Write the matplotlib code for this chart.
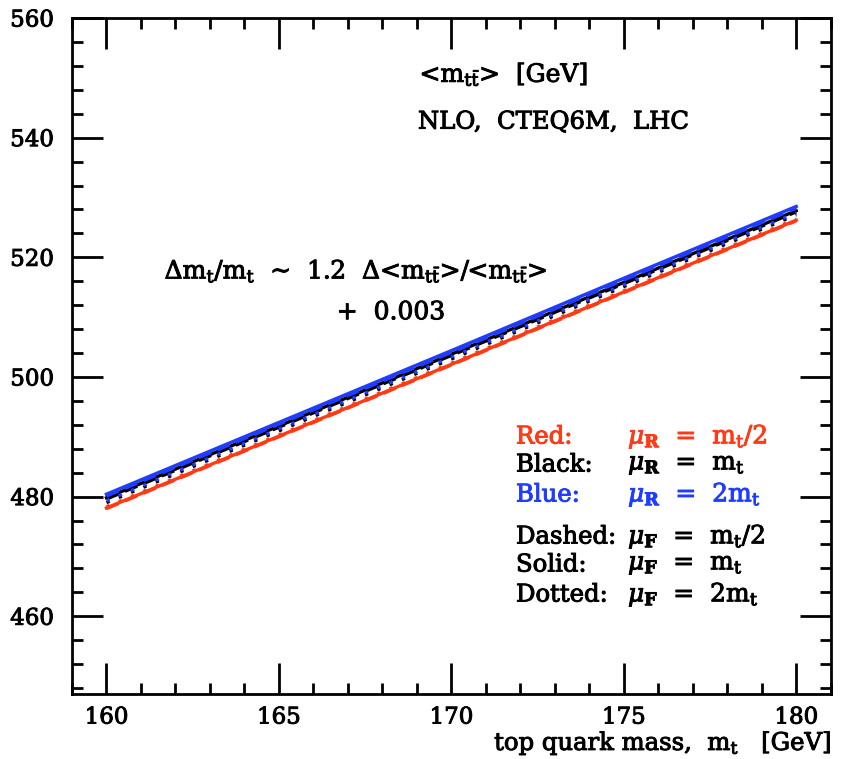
import matplotlib
matplotlib.use("Agg")
import matplotlib.pyplot as plt
import matplotlib.patheffects as pe
from matplotlib.ticker import MultipleLocator

plt.rcParams['font.family'] = ['DejaVu Serif']
plt.rcParams['mathtext.fontset'] = 'dejavuserif'

mt = [160, 165, 170, 175, 180]

# <m_ttbar> values [GeV] for (mu_R, mu_F) choices
red_dashed   = [478.0, 490.0, 502.0, 514.1, 526.1]
red_solid    = [478.1, 490.1, 502.1, 514.2, 526.2]
red_dotted   = [478.3, 490.3, 502.3, 514.4, 526.4]
black_dashed = [479.6, 491.6, 503.6, 515.6, 527.6]
black_solid  = [479.8, 491.8, 503.8, 515.8, 527.8]
black_dotted = [479.0, 491.0, 503.0, 515.1, 527.1]
blue_dashed  = [480.1, 492.1, 504.1, 516.2, 528.2]
blue_solid   = [480.4, 492.4, 504.4, 516.5, 528.5]
blue_dotted  = [479.3, 491.3, 503.3, 515.4, 527.4]

RED = '#ff3a14'
BLUE = '#1f3cff'
BLACK = '#000000'

fig = plt.figure(figsize=(8.48, 7.59), dpi=100)
ax = fig.add_axes([0.0849, 0.0856, 0.8947, 0.8907])

lw = 2.4
ax.plot(mt, red_dashed, color=RED, lw=lw, ls=(0, (4, 2)))
ax.plot(mt, red_solid, color=RED, lw=lw, ls='-')
ax.plot(mt, red_dotted, color=RED, lw=lw, ls=(0, (1, 3)))
ax.plot(mt, black_dotted, color=BLACK, lw=lw, ls=(0, (1, 3)))
ax.plot(mt, black_dashed, color=BLACK, lw=lw, ls=(0, (4, 2)))
ax.plot(mt, black_solid, color=BLACK, lw=lw, ls='-')
ax.plot(mt, blue_dotted, color=BLUE, lw=lw, ls=(0, (1, 3)))
ax.plot(mt, blue_dashed, color=BLUE, lw=lw, ls=(0, (4, 2)))
ax.plot(mt, blue_solid, color=BLUE, lw=lw, ls='-')

ax.set_xlim(159, 181)
ax.set_ylim(447, 560)

ax.xaxis.set_major_locator(MultipleLocator(5))
ax.xaxis.set_minor_locator(MultipleLocator(1))
ax.yaxis.set_major_locator(MultipleLocator(20))
ax.yaxis.set_minor_locator(MultipleLocator(4))

ax.tick_params(which='both', direction='in', top=True, right=True, width=2.0)
ax.tick_params(which='major', length=22, labelsize=16.5)
ax.tick_params(axis='x', which='major', pad=9)
ax.tick_params(axis='y', which='major', pad=13)
ax.tick_params(which='minor', length=8)
for sp in ax.spines.values():
    sp.set_linewidth(2.0)

def bolden(t, col='black'):
    t.set_path_effects([pe.withStroke(linewidth=0.7, foreground=col)])
    return t

for lbl in ax.get_xticklabels() + ax.get_yticklabels():
    bolden(lbl)

FS = 18
xl = ax.set_xlabel(r'top quark mass,  m$_\mathrm{t}$   [GeV]', fontsize=17.5, loc='right', labelpad=1)
bolden(xl)

tbar = r'$_{\mathrm{t}\bar{\mathrm{t}}}$'
bolden(ax.text(0.458, 0.916, '<m' + tbar + '>  [GeV]', transform=ax.transAxes,
               fontsize=FS, va='center', ha='left'))
bolden(ax.text(0.456, 0.846, 'NLO,  CTEQ6M,  LHC', transform=ax.transAxes,
               fontsize=FS - 0.5, va='center', ha='left'))
bolden(ax.text(0.122, 0.625, r'Δm$_\mathrm{t}$/m$_\mathrm{t}$  ~  1.2  Δ<m' + tbar + '>/<m' + tbar + '>',
               transform=ax.transAxes, fontsize=FS, va='center', ha='left'))
bolden(ax.text(0.349, 0.564, '+  0.003', transform=ax.transAxes, fontsize=FS,
               va='center', ha='left'))

legend_rows = [
    ('Red:', r'$\mu_\mathbf{R}$  =  m$_\mathrm{t}$/2', RED, 437),
    ('Black:', r'$\mu_\mathbf{R}$  =  m$_\mathrm{t}$', BLACK, 465),
    ('Blue:', r'$\mu_\mathbf{R}$  =  2m$_\mathrm{t}$', BLUE, 495),
    ('Dashed:', r'$\mu_\mathbf{F}$  =  m$_\mathrm{t}$/2', BLACK, 537),
    ('Solid:', r'$\mu_\mathbf{F}$  =  m$_\mathrm{t}$', BLACK, 565),
    ('Dotted:', r'$\mu_\mathbf{F}$  =  2m$_\mathrm{t}$', BLACK, 595),
]
for lab, expr, col, ypx in legend_rows:
    yf = 1 - ypx / 759.0
    bolden(fig.text(516 / 848.0, yf, lab, color=col, fontsize=17.5, va='center', ha='left'), col)
    bolden(fig.text(628 / 848.0, yf, expr, color=col, fontsize=FS, va='center', ha='left'), col)

fig.savefig('out.png', dpi=100)
